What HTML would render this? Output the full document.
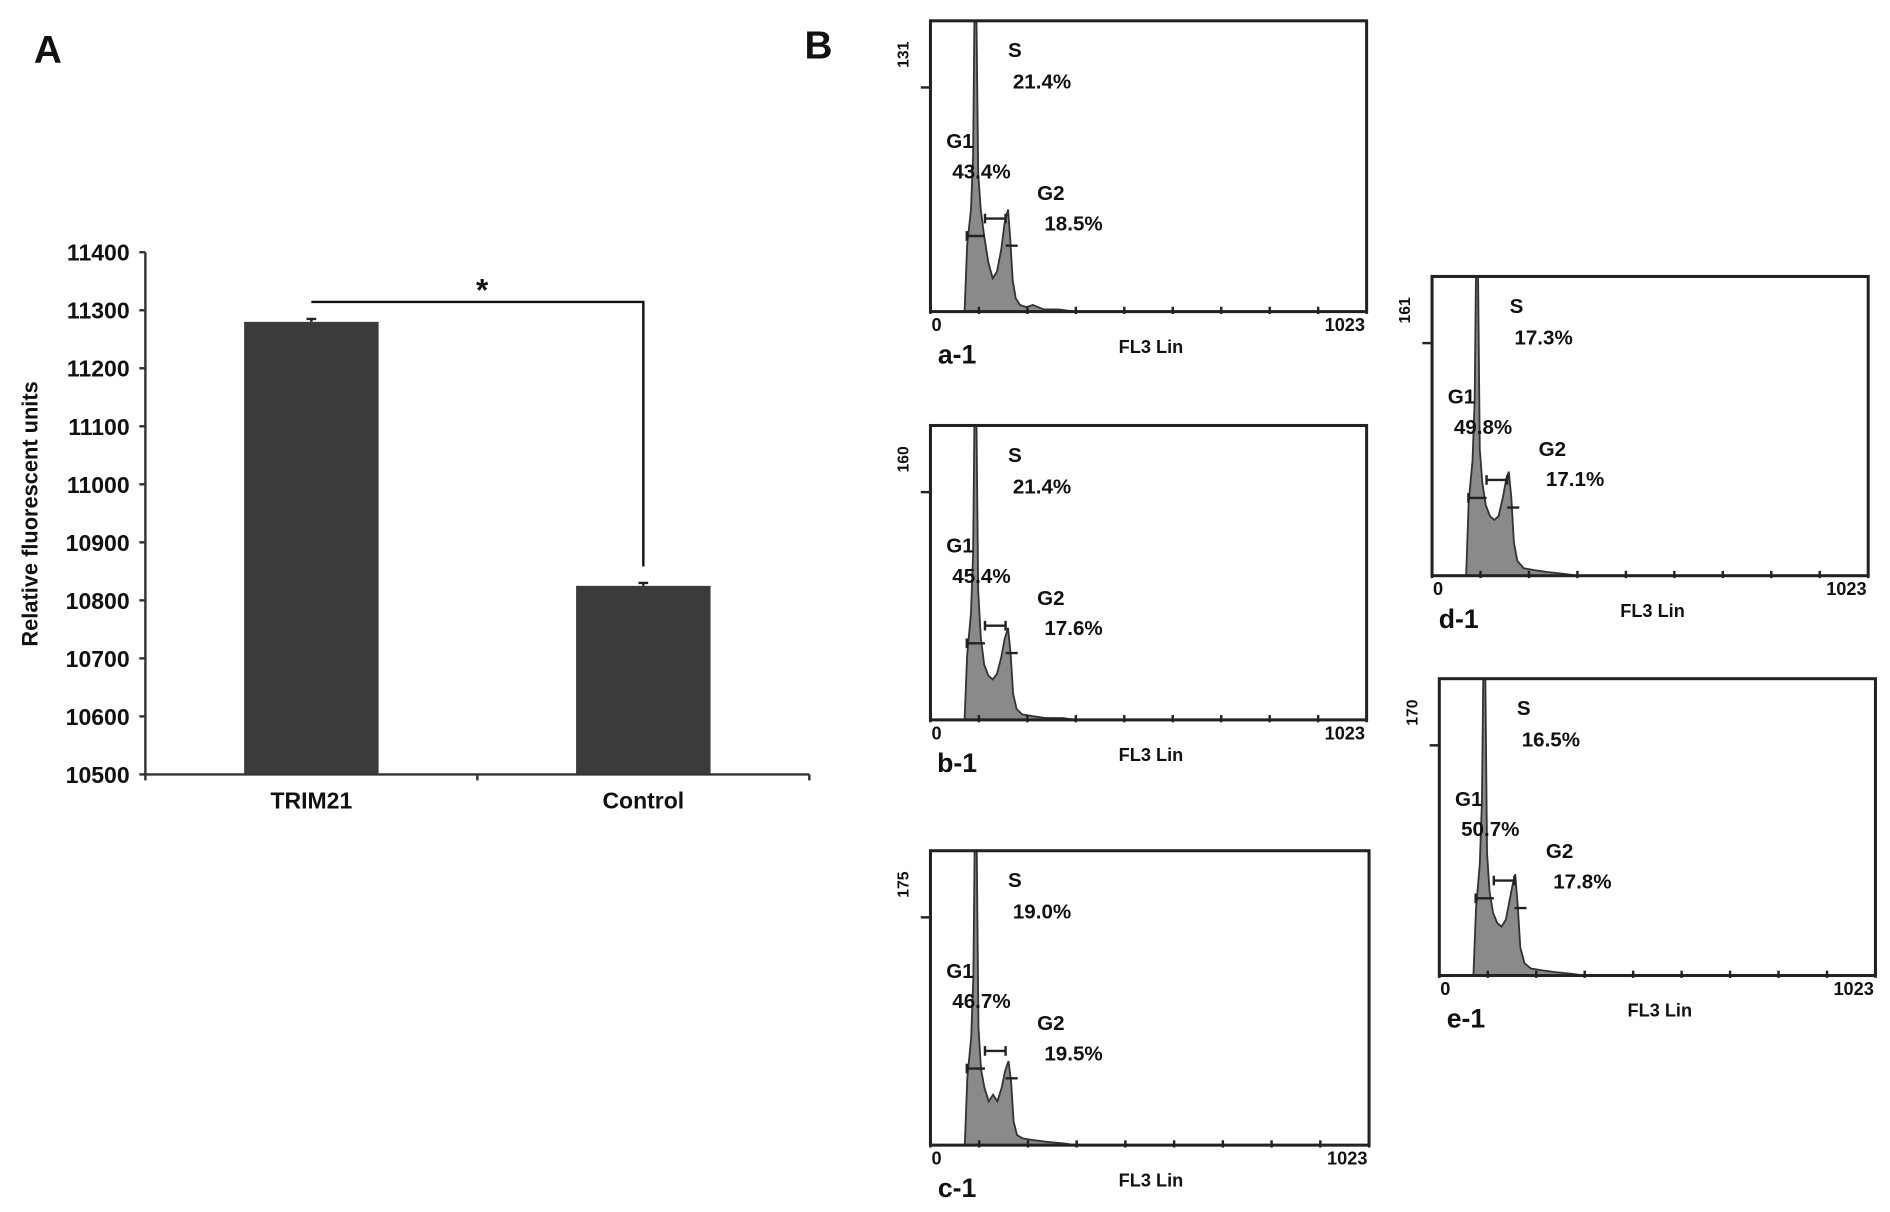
<!DOCTYPE html>
<html><head><meta charset="utf-8"><style>
html,body{margin:0;padding:0;background:#fff}
svg{display:block}
text{font-family:"Liberation Sans",Arial,sans-serif;font-weight:bold;fill:#111}
</style></head><body>
<svg id="fig" width="1890" height="1212" viewBox="0 0 1560 1000">
<g id="panelA"></g>
<g id="panelB"></g>
</svg>
<script>
// ---------- Panel A data ----------
const barCategories = ["TRIM21", "Control"];
const barValues = [11280, 10825];
const barErrors = [5, 5];
const yTicks = [10500, 10600, 10700, 10800, 10900, 11000, 11100, 11200, 11300, 11400];

// ---------- Panel B data ----------
const histNames = ["a-1", "b-1", "c-1", "d-1", "e-1"];
const histYMax = [131, 160, 175, 161, 170];
const histS = ["21.4%", "21.4%", "19.0%", "17.3%", "16.5%"];
const histG1 = ["43.4%", "45.4%", "46.7%", "49.8%", "50.7%"];
const histG2 = ["18.5%", "17.6%", "19.5%", "17.1%", "17.8%"];
const histA = [[80,0],[86,30],[95,46],[100,70],[103,131],[108,131],[112,62],[118,46],[126,34],[136,22],[146,15],[156,18],[166,28],[174,40],[182,46],[187,33],[193,14],[200,6],[210,3],[225,2],[240,3],[265,1],[300,1],[340,0]];
const histB = [[80,0],[86,35],[95,58],[100,90],[103,160],[108,160],[112,70],[118,45],[126,30],[136,24],[146,22],[156,25],[166,34],[174,44],[182,50],[188,36],[194,14],[202,6],[215,3],[240,2],[270,1],[310,1],[340,0]];
const histC = [[80,0],[86,40],[95,64],[100,100],[103,175],[108,175],[112,70],[118,45],[126,34],[136,26],[146,30],[156,26],[166,34],[174,44],[182,50],[188,38],[194,14],[202,6],[215,4],[240,3],[270,2],[310,1],[340,0]];
const histD = [[80,0],[86,40],[95,62],[100,95],[103,161],[108,161],[112,68],[118,50],[126,38],[136,32],[146,30],[156,32],[166,42],[174,52],[180,56],[186,42],[192,18],[200,8],[215,4],[240,3],[270,2],[310,1],[340,0]];
const histE = [[80,0],[86,38],[95,64],[100,100],[103,170],[108,170],[112,70],[118,48],[126,36],[136,30],[146,28],[156,32],[164,42],[172,52],[178,58],[184,40],[190,16],[200,7],[215,4],[240,3],[270,2],[310,1],[340,0]];
const histData = [histA, histB, histC, histD, histE];

const NS = "http://www.w3.org/2000/svg";
function mk(parent, tag, attrs, txt){
  const e = document.createElementNS(NS, tag);
  for (const k in attrs) e.setAttribute(k, attrs[k]);
  if (txt !== undefined) e.textContent = txt;
  parent.appendChild(e);
  return e;
}

// ---------- Panel A ----------
(function(){
  const g = document.getElementById("panelA");
  const x0 = 120, x1 = 668, yTop = 208, yBot = 639;
  const vmin = 10500, vmax = 11400;
  const yScale = v => yBot - (v - vmin) / (vmax - vmin) * (yBot - yTop);
  const bandW = (x1 - x0) / barCategories.length;
  const xCenter = i => x0 + bandW * (i + 0.5);
  const barW = 111;

  let t = mk(g, "text", {x: 28, y: 52, "font-size": 32}, "A");
  
  

  barCategories.forEach((c, i) => {
    const cx = xCenter(i), top = yScale(barValues[i]);
    const r = mk(g, "rect", {x: cx - barW/2, y: top, width: barW, height: yBot - top, fill: "#3b3b3b"});
    
    
    const e1 = yScale(barValues[i] + barErrors[i]);
    const eb = mk(g, "path", {d: `M${cx},${e1}V${top}M${cx-4},${e1}H${cx+4}`, stroke: "#222", "stroke-width": 2, fill: "none"});
    
    
    const lb = mk(g, "text", {x: cx, y: 667, "font-size": 19, "text-anchor": "middle"}, c);
    
    
  });

  const ax = mk(g, "path", {d: `M${x0},${yTop}V${yBot}H${x1}`, stroke: "#333", "stroke-width": 2, fill: "none"});
  
  
  [0,1,2].forEach(k => {
    const xx = x0 + k * bandW;
    mk(g, "line", {x1: xx, x2: xx, y1: yBot, y2: yBot + 5, stroke: "#333", "stroke-width": 2});
  });

  yTicks.forEach(v => {
    const y = yScale(v);
    mk(g, "line", {x1: x0 - 5, x2: x0, y1: y, y2: y, stroke: "#333", "stroke-width": 2});
    const tl = mk(g, "text", {x: 107, y: y + 7, "font-size": 19, "text-anchor": "end"}, String(v));
    
    
  });

  const yt = mk(g, "text", {x: 0, y: 0, "font-size": 18, "text-anchor": "middle", transform: "translate(31,424) rotate(-90)"}, "Relative fluorescent units");
  
  

  const sx1 = xCenter(0), sx2 = xCenter(1);
  const sig = mk(g, "path", {d: `M${sx1},249H${sx2}V${yScale(barValues[1]) - 16}`, stroke: "#111", "stroke-width": 2, fill: "none"});
  
  
  const st = mk(g, "text", {x: (sx1 + sx2)/2 + 4, y: 248, "font-size": 26, "text-anchor": "middle"}, "*");
  
  
})();

// ---------- Panel B ----------
(function(){
  const g = document.getElementById("panelB");
  const boxes = [[768,17,360,240],[768,351,360,243],[768,702,362,243],[1182,228,360,247],[1188,560,360,245]];
  let t = mk(g, "text", {x: 664, y: 48, "font-size": 32}, "B");
  
  

  histNames.forEach((name, i) => {
    const [bx, by, bw, bh] = boxes[i];
    const hg = mk(g, "g", {});
    
    
    const xS = ch => bx + ch / 1023 * bw;
    const yS = c => by + bh - Math.min(c, histYMax[i]) / histYMax[i] * bh;
    const pts = histData[i];
    let d = `M${xS(pts[0][0])},${by+bh}`;
    pts.forEach(p => d += `L${xS(p[0])},${yS(p[1])}`);
    d += `L${xS(pts[pts.length-1][0])},${by+bh}Z`;
    const area = mk(hg, "path", {d, fill: "#8a8a8a", stroke: "#333", "stroke-width": 1.5});
    
    

    const frame = mk(hg, "rect", {x: bx, y: by, width: bw, height: bh, fill: "none", stroke: "#222", "stroke-width": 2.5});
    
    
    mk(hg, "line", {x1: bx - 8, x2: bx, y1: by + 55, y2: by + 55, stroke: "#222", "stroke-width": 2});
    for (let k = 0; k <= 9; k++) {
      const xx = bx + k * bw / 9;
      mk(hg, "line", {x1: xx, x2: xx, y1: by + bh - 4, y2: by + bh + 2, stroke: "#222", "stroke-width": 2});
    }
    // gate markers
    const gy1 = by + bh * 0.74, gy2 = by + bh * 0.68;
    mk(hg, "path", {d: `M${bx+30},${gy1}H${bx+45}M${bx+45},${gy2}H${bx+62}M${bx+62},${gy1+8}H${bx+72}M${bx+30},${gy1-4}v8M${bx+45},${gy2-4}v8M${bx+62},${gy2-4}v8`, stroke: "#222", "stroke-width": 2, fill: "none"});

    const labs = [["S",64,30],[histS[i],68,56],["G1",13,105],[histG1[i],18,130],["G2",88,148],[histG2[i],94,173]];
    labs.forEach((l, j) => {
      const tx = mk(hg, "text", {x: bx + l[1], y: by + l[2], "font-size": 17}, l[0]);
      
      
    });
    const ym = mk(hg, "text", {x: 0, y: 0, "font-size": 13, "text-anchor": "middle", transform: `translate(${bx-18},${by+28}) rotate(-90)`}, String(histYMax[i]));
    
    
    const z = mk(hg, "text", {x: bx + 5, y: by + bh + 16, "font-size": 15, "text-anchor": "middle"}, "0");
    
    
    const m = mk(hg, "text", {x: bx + bw - 18, y: by + bh + 16, "font-size": 15, "text-anchor": "middle"}, "1023");
    
    
    const xt = mk(hg, "text", {x: bx + 182, y: by + bh + 34, "font-size": 15, "text-anchor": "middle"}, "FL3 Lin");
    
    
    const nm = mk(hg, "text", {x: bx + 22, y: by + bh + 43, "font-size": 22, "text-anchor": "middle"}, name);
    
    
  });
})();
</script>
</body></html>
